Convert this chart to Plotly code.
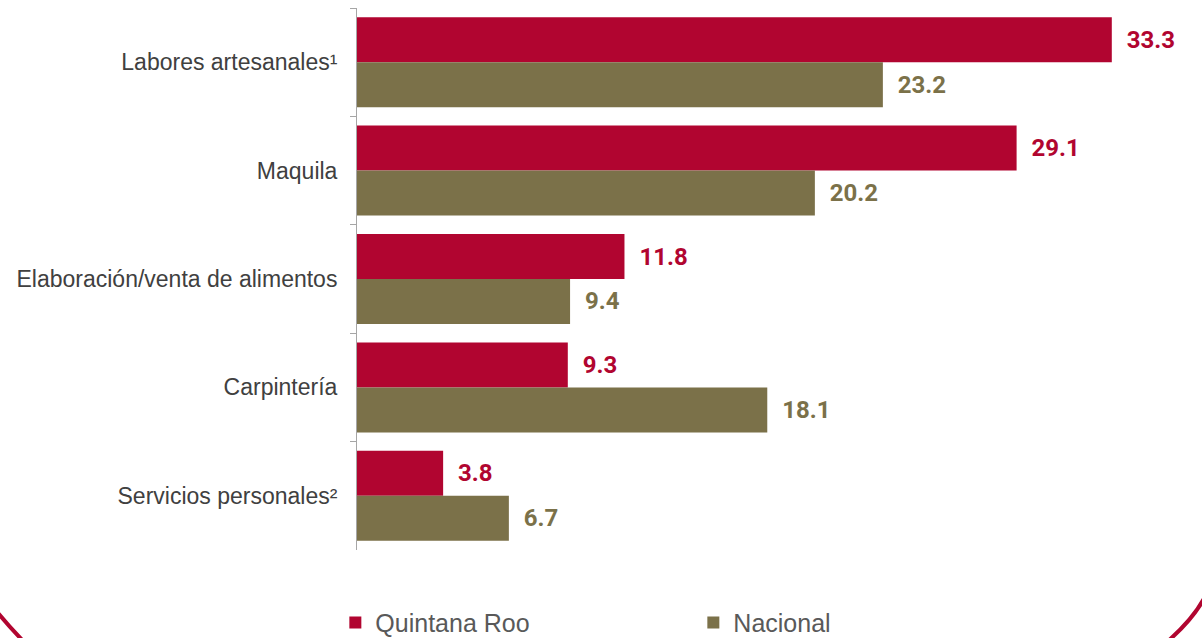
import plotly.graph_objects as go

# data
categorias = ["Labores artesanales¹", "Maquila", "Elaboración/venta de alimentos",
              "Carpintería", "Servicios personales²"]
quintana_roo = [33.3, 29.1, 11.8, 9.3, 3.8]
nacional = [23.2, 20.2, 9.4, 18.1, 6.7]

rojo = "#B10530"
olivo = "#7B7149"

# plot area in pixels (for the decorative frame)
L, R, T, B = 357, 1190, 8, 550
def pp(x, y):
    return (x - L) / (R - L), (B - y) / (B - T)

def path(pts):
    (x0, y0), (cx, cy), (x1, y1) = [pp(*p) for p in pts]
    return f"M {x0},{y0} Q {cx},{cy} {x1},{y1}"

fig = go.Figure()
for nombre, vals, col in [("Quintana Roo", quintana_roo, rojo), ("Nacional", nacional, olivo)]:
    fig.add_trace(go.Bar(
        y=categorias, x=vals, name=nombre, orientation="h",
        marker=dict(color=col, line=dict(width=0)),
        text=[f"\u00a0 {v:.1f}" for v in vals], textposition="outside",
        textfont=dict(family="Roboto", size=24, color=col, weight="bold"),
        cliponaxis=False,
    ))

# rounded frame corners at the bottom
fig.add_shape(type="path", xref="paper", yref="paper",
              path=path([(-10, 603), (8, 626), (30, 648)]),
              line=dict(color=rojo, width=4))
fig.add_shape(type="path", xref="paper", yref="paper",
              path=path([(1210, 585), (1200, 615), (1160, 648)]),
              line=dict(color=rojo, width=4))

fig.update_layout(
    width=1202, height=638,
    margin=dict(l=L, r=1202 - R, t=T, b=638 - B, autoexpand=False),
    paper_bgcolor="white", plot_bgcolor="white",
    barmode="group", bargap=0.17, bargroupgap=0,
    showlegend=True,
    legend=dict(orientation="h", x=-0.026, y=-0.134, xanchor="left", yanchor="middle",
                entrywidth=313, entrywidthmode="pixels",
                font=dict(family="Liberation Sans", size=25, color="#595959")),
    xaxis=dict(range=[0, 36.75], visible=False),
    yaxis=dict(autorange="reversed", tickson="boundaries", ticks="outside", ticklen=6,
               tickcolor="#A6A6A6", showline=True, linecolor="#A6A6A6", linewidth=1,
               showgrid=False, ticklabelstandoff=14, automargin=False,
               tickfont=dict(family="Liberation Sans", size=23, color="#404040")),
)

fig.write_html("out.html", config={"displayModeBar": False},
               post_script="document.body.style.margin='0px';")
